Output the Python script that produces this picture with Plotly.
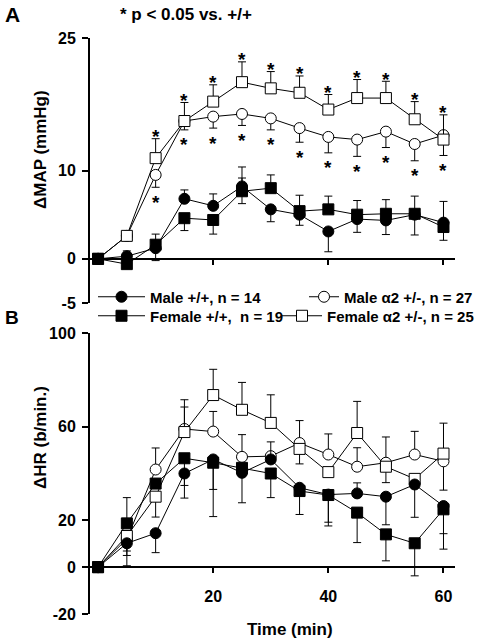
import plotly.graph_objects as go

# ---------------- data ----------------
time_min = [0, 5, 10, 15, 20, 25, 30, 35, 40, 45, 50, 55, 60]

# Panel A: delta MAP (mmHg)
map_male_wt = [0, 0.3, 1.2, 6.8, 6.0, 8.2, 5.6, 5.0, 3.1, 4.5, 4.35, 5.0, 4.1]
map_male_wt_up = [0, 0.6, 0, 1.0, 1.35, 2.2, 0, 0, 0, 0, 0, 0, 2.4]
map_male_wt_dn = [0, 0, 1.4, 0, 0, 0, 1.4, 1.2, 2.3, 1.5, 1.6, 2.3, 0]

map_fem_wt = [0, -0.6, 1.6, 4.6, 4.4, 7.65, 8.0, 5.4, 5.6, 5.0, 5.1, 5.1, 3.6]
map_fem_wt_up = [0, 0, 1.2, 0, 0, 1.5, 1.5, 1.8, 1.5, 1.6, 1.6, 2.0, 0]
map_fem_wt_dn = [0, 0.4, 0, 1.4, 1.6, 1.4, 0, 0, 0, 0, 0, 0, 1.5]

map_male_a2 = [0, 2.6, 9.5, 15.6, 16.1, 16.4, 15.9, 14.8, 13.8, 13.5, 14.4, 13.0, 14.0]
map_male_a2_up = [0] * 13
map_male_a2_dn = [0, 0, 1.4, 1.0, 1.3, 1.3, 1.3, 1.6, 1.8, 1.9, 1.8, 1.9, 2.3]
map_male_a2_sig = [0, 0, 1, 1, 1, 1, 1, 1, 1, 1, 1, 1, 1]

map_fem_a2 = [0, 2.6, 11.4, 15.6, 17.8, 20.0, 19.3, 18.8, 16.9, 18.2, 18.2, 15.8, 13.5]
map_fem_a2_up = [0, 0, 2.2, 2.1, 1.9, 2.3, 1.9, 1.9, 1.7, 2.1, 1.9, 2.0, 2.8]
map_fem_a2_dn = [0] * 13
map_fem_a2_sig = [0, 0, 1, 1, 1, 1, 1, 1, 1, 1, 1, 1, 1]

# Panel B: delta HR (b/min.)
hr_male_wt = [0, 10.2, 14.5, 40.0, 46.0, 40.3, 46.0, 33.9, 31.0, 31.5, 30.1, 35.3, 26.1]
hr_male_wt_up = [0, 0, 0, 0, 0, 0, 7.5, 0, 0, 4.5, 0, 0, 0]
hr_male_wt_dn = [0, 9.6, 8.3, 10.5, 12.8, 12.8, 0, 0, 11.8, 0, 12.0, 14.0, 11.8]

hr_fem_wt = [0, 18.7, 35.7, 46.5, 44.6, 42.4, 40.0, 32.5, 30.8, 23.3, 14.0, 10.2, 24.7]
hr_fem_wt_up = [0, 11.0, 0, 0, 0, 0, 0, 0, 0, 0, 0, 0, 0]
hr_fem_wt_dn = [0, 0, 0, 11.6, 23.0, 0, 10.3, 10.0, 13.2, 12.8, 11.3, 13.9, 17.0]

hr_male_a2 = [0, 12.0, 41.7, 59.0, 57.9, 47.1, 47.4, 53.0, 48.1, 42.9, 44.6, 48.1, 45.2]
hr_male_a2_up = [0, 0, 9.2, 9.4, 8.6, 9.5, 0, 9.6, 8.8, 8.1, 11.0, 9.9, 0]
hr_male_a2_dn = [0, 7.0, 0, 0, 0, 0, 0, 0, 0, 0, 0, 0, 12.3]

hr_fem_a2 = [0, 13.3, 30.1, 57.7, 73.5, 67.2, 61.6, 50.5, 40.6, 57.3, 42.9, 37.7, 48.5]
hr_fem_a2_up = [0, 0, 0, 13.8, 11.0, 11.7, 12.0, 0, 0, 13.5, 0, 0, 13.0]
hr_fem_a2_dn = [0, 6.4, 8.7, 0, 0, 0, 0, 6.4, 0, 0, 6.8, 0, 0]

series_names = ["Male +/+, n = 14", "Male \u03b12 +/-, n = 27",
                "Female +/+,  n = 19", "Female \u03b12 +/-, n = 25"]

map_ticks = [-5, 0, 10, 25]
map_tick_text = ["-5", "0", "10", "25"]
hr_ticks = [-20, 0, 20, 60, 100]
hr_tick_text = ["-20", "0", "20", "60", "100"]
time_ticks = [20, 40, 60]
time_tick_text = ["20", "40", "60"]
map_range = [-5, 25]
hr_range = [-20, 100]
time_range = [-1.4, 62]

# ---------------- layout helpers ----------------
W, H = 496, 640
L, R, T, B = 90, 41, 38, 26
pw, ph = W - L - R, H - T - B


def fx(x):
    return (x - L) / pw


def fy(y):
    return (H - B - y) / ph


top_dom = [fy(303), fy(38)]
bot_dom = [fy(614), fy(333)]


def zero_pos(dom, rng):
    return dom[0] + (0 - rng[0]) / (rng[1] - rng[0]) * (dom[1] - dom[0])


FONT = "Liberation Sans, Arial, sans-serif"
BOLD = dict(family=FONT, color="black", weight="bold")


def f(size):
    d = dict(BOLD)
    d["size"] = size
    return d


fig = go.Figure()

styles = [
    ("circle", "black", "legend"),
    ("circle", "white", "legend2"),
    ("square", "black", "legend3"),
    ("square", "white", "legend4"),
]

panelA = [(map_male_wt, map_male_wt_up, map_male_wt_dn),
          (map_male_a2, map_male_a2_up, map_male_a2_dn),
          (map_fem_wt, map_fem_wt_up, map_fem_wt_dn),
          (map_fem_a2, map_fem_a2_up, map_fem_a2_dn)]
panelB = [(hr_male_wt, hr_male_wt_up, hr_male_wt_dn),
          (hr_male_a2, hr_male_a2_up, hr_male_a2_dn),
          (hr_fem_wt, hr_fem_wt_up, hr_fem_wt_dn),
          (hr_fem_a2, hr_fem_a2_up, hr_fem_a2_dn)]

draw_order = [1, 3, 0, 2]
for pi, (panel, xa, ya) in enumerate([(panelA, "x", "y"), (panelB, "x2", "y2")]):
    for si in draw_order:
        vals, up, dn = panel[si]
        sym, fill, leg = styles[si]
        fig.add_trace(go.Scatter(
            x=time_min, y=vals, mode="lines+markers", name=series_names[si],
            xaxis=xa, yaxis=ya, legend=leg, showlegend=(pi == 0),
            line=dict(color="black", width=1),
            marker=dict(symbol=sym, size=11, color=fill, line=dict(color="black", width=1)),
            error_y=dict(type="data", symmetric=False, array=up, arrayminus=dn,
                         color="black", thickness=1, width=4),
            cliponaxis=False, hoverinfo="skip",
        ))

annotations = []
# significance stars
for tt, v, e, s in zip(time_min, map_fem_a2, map_fem_a2_up, map_fem_a2_sig):
    if s:
        annotations.append(dict(x=tt, y=v + e, xref="x", yref="y", text="*", showarrow=False,
                                yanchor="middle", yshift=2, font=f(19)))
for tt, v, e, s in zip(time_min, map_male_a2, map_male_a2_dn, map_male_a2_sig):
    if s:
        annotations.append(dict(x=tt, y=v - e, xref="x", yref="y", text="*", showarrow=False,
                                yanchor="middle", yshift=-15, font=f(19)))

annotations += [
    dict(x=fx(3), y=fy(15), xref="paper", yref="paper", text="A", showarrow=False,
         xanchor="left", yanchor="middle", font=f(21)),
    dict(x=fx(3), y=fy(317), xref="paper", yref="paper", text="B", showarrow=False,
         xanchor="left", yanchor="middle", font=f(19)),
    dict(x=fx(118), y=fy(15), xref="paper", yref="paper", text="* p < 0.05 vs. +/+",
         showarrow=False, xanchor="left", yanchor="middle", font=f(17)),
    dict(x=fx(40), y=fy(150), xref="paper", yref="paper", text="\u0394MAP (mmHg)",
         showarrow=False, textangle=-90, xanchor="center", yanchor="middle", font=f(17)),
    dict(x=fx(40), y=fy(438), xref="paper", yref="paper", text="\u0394HR (b/min.)",
         showarrow=False, textangle=-90, xanchor="center", yanchor="middle", font=f(17)),
    dict(x=fx(290), y=fy(629), xref="paper", yref="paper", text="Time (min)",
         showarrow=False, xanchor="center", yanchor="middle", font=f(17)),
]

axis_common = dict(showline=True, linecolor="black", linewidth=2, ticks="outside",
                   tickcolor="black", tickwidth=2, showgrid=False, zeroline=False,
                   tickfont=f(16), tickmode="array")

legend_common = dict(bgcolor="rgba(0,0,0,0)", borderwidth=0, font=f(15),
                     xanchor="left", yanchor="middle", tracegroupgap=0)

fig.update_layout(
    width=W, height=H,
    margin=dict(l=L, r=R, t=T, b=B, autoexpand=False),
    paper_bgcolor="white", plot_bgcolor="white",
    hovermode=False,
    xaxis=dict(axis_common, domain=[0, 1], range=time_range, anchor="free",
               position=zero_pos(top_dom, map_range), tickvals=time_ticks,
               showticklabels=False, ticklen=5),
    yaxis=dict(axis_common, domain=top_dom, range=map_range, anchor="x",
               tickvals=map_ticks, ticktext=map_tick_text, ticklen=6, ticklabelstandoff=3),
    xaxis2=dict(axis_common, domain=[0, 1], range=time_range, anchor="free",
                position=zero_pos(bot_dom, hr_range), tickvals=time_ticks,
                ticktext=time_tick_text, ticklen=5, ticklabelstandoff=10),
    yaxis2=dict(axis_common, domain=bot_dom, range=hr_range, anchor="x2",
                tickvals=hr_ticks, ticktext=hr_tick_text, ticklen=6, ticklabelstandoff=3),
    legend=dict(legend_common, x=fx(93), y=fy(297), itemwidth=47),
    legend2=dict(legend_common, x=fx(304), y=fy(297), itemwidth=30),
    legend3=dict(legend_common, x=fx(93), y=fy(316), itemwidth=47),
    legend4=dict(legend_common, x=fx(277), y=fy(316), itemwidth=40),
    annotations=annotations,
    showlegend=True,
)

fig.write_html("out.html", config={"displayModeBar": False, "staticPlot": False},
               post_script="document.body.style.margin='0';document.body.style.padding='0';")
